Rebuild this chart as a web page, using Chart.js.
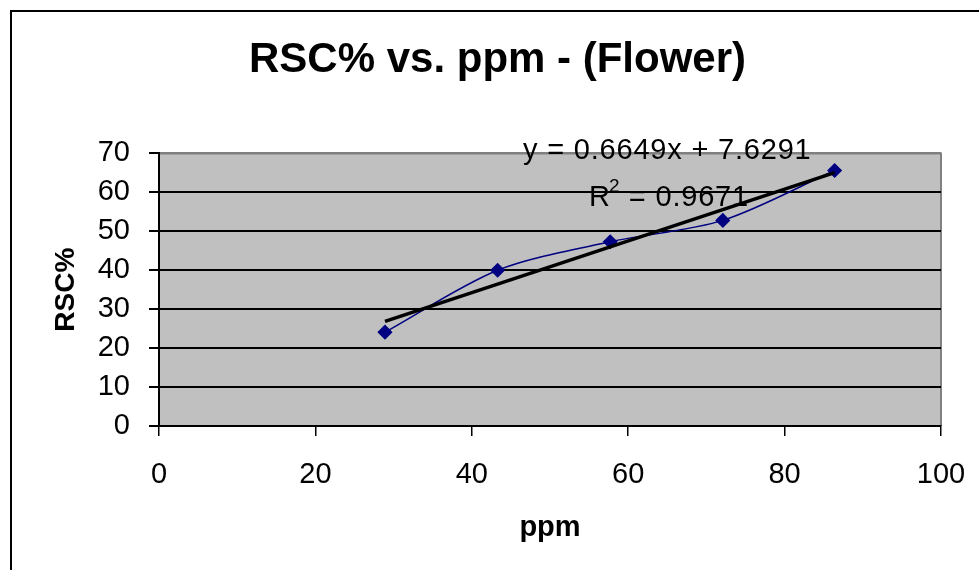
<!DOCTYPE html>
<html>
<head>
<meta charset="utf-8">
<title>RSC% vs. ppm - (Flower)</title>
<script src="https://cdn.jsdelivr.net/npm/chart.js@4.4.1/dist/chart.umd.min.js"></script>
<style>
  html, body { margin: 0; padding: 0; background: #fff; }
  #wrap { width: 979px; height: 570px; }
</style>
</head>
<body>
<div id="wrap"><canvas id="rscChart" width="979" height="570"></canvas></div>
<script>
// values
const ppm = [28.9, 43.3, 57.7, 72.1, 86.4];
const rsc = [24.1, 40, 47.3, 52.8, 65.6];
const trendSlope = 0.6649;
const trendIntercept = 7.6291;
const rSquared = 0.9671;
const xTicks = [0, 20, 40, 60, 80, 100];
const yTicks = [0, 10, 20, 30, 40, 50, 60, 70];

const FONT = '"Liberation Sans", Arial, sans-serif';
Chart.defaults.font.family = FONT;
Chart.defaults.color = '#000';

// linear trendline over the range of the data
const xMin = Math.min(...ppm);
const xMax = Math.max(...ppm);
const trendPoints = [xMin, xMax].map(x => ({ x: x, y: trendSlope * x + trendIntercept }));

const plotBackground = {
  id: 'plotBackground',
  beforeDraw(chart) {
    const { ctx, chartArea: a } = chart;
    ctx.save();
    ctx.fillStyle = '#fff';
    ctx.fillRect(0, 0, chart.width, chart.height);
    // outer frame
    ctx.strokeStyle = '#000';
    ctx.lineWidth = 2;
    ctx.strokeRect(11, 11, chart.width + 20, chart.height + 20);
    // grey plot area
    ctx.fillStyle = '#c0c0c0';
    ctx.fillRect(a.left, a.top, a.right - a.left, a.bottom - a.top);
    ctx.strokeStyle = '#808080';
    ctx.lineWidth = 2;
    ctx.beginPath();
    ctx.moveTo(a.left, a.top);
    ctx.lineTo(a.right, a.top);
    ctx.lineTo(a.right, a.bottom);
    ctx.stroke();
    ctx.restore();
  }
};

const equationLabel = {
  id: 'equationLabel',
  afterDraw(chart) {
    const ctx = chart.ctx;
    ctx.save();
    ctx.fillStyle = '#000';
    ctx.textBaseline = 'alphabetic';
    ctx.textAlign = 'left';
    if ('letterSpacing' in ctx) ctx.letterSpacing = '0.8px';
    ctx.font = '29px ' + FONT;
    const eq = 'y = ' + trendSlope + 'x + ' + trendIntercept;
    ctx.fillText(eq, 523, 159);
    ctx.fillText('R', 589, 206);
    ctx.font = '19px ' + FONT;
    ctx.fillText('2', 609, 192);
    ctx.font = '29px ' + FONT;
    ctx.fillText(' = ' + rSquared, 620, 206);
    ctx.restore();
  }
};

const ctx = document.getElementById('rscChart').getContext('2d');
new Chart(ctx, {
  type: 'scatter',
  data: {
    datasets: [
      {
        label: 'RSC%',
        data: ppm.map((x, i) => ({ x: x, y: rsc[i] })),
        showLine: true,
        tension: 0.3,
        borderColor: '#000080',
        borderWidth: 1.5,
        backgroundColor: '#000080',
        pointBackgroundColor: '#000080',
        pointBorderColor: '#000080',
        pointStyle: 'rectRot',
        pointRadius: 6.5,
        order: 1
      },
      {
        label: 'Linear',
        data: trendPoints,
        showLine: true,
        borderColor: '#000',
        borderWidth: 3.5,
        pointRadius: 0,
        order: 0
      }
    ]
  },
  options: {
    responsive: false,
    animation: false,
    layout: { padding: { left: 54, right: 38, top: 0, bottom: 0 } },
    plugins: {
      legend: { display: false },
      tooltip: { enabled: false },
      title: {
        display: true,
        text: 'RSC% vs. ppm - (Flower)',
        color: '#000',
        font: { size: 42, weight: 'bold', lineHeight: 1.2 },
        padding: { top: 35, bottom: 68 }
      }
    },
    scales: {
      x: {
        type: 'linear',
        min: 0,
        max: 100,
        afterBuildTicks(scale) { scale.ticks = xTicks.map(v => ({ value: v })); },
        afterFit(scale) {
          scale.height = 144;
          scale.paddingLeft = 0;
          scale.paddingRight = 0;
        },
        ticks: { font: { size: 29 }, padding: 22, color: '#000' },
        grid: { drawOnChartArea: false, drawTicks: true, tickLength: 10, color: '#000', lineWidth: 1.5 },
        border: { color: '#000', width: 2 },
        title: {
          display: true,
          text: 'ppm',
          color: '#000',
          font: { size: 29, weight: 'bold', lineHeight: 1.2 },
          padding: { top: 0, bottom: 25 }
        }
      },
      y: {
        type: 'linear',
        min: 0,
        max: 70,
        afterBuildTicks(scale) { scale.ticks = yTicks.map(v => ({ value: v })); },
        afterFit(scale) { scale.width = 105; },
        ticks: { font: { size: 29 }, padding: 19, color: '#000' },
        grid: {
          drawTicks: true,
          tickLength: 10,
          lineWidth: 2,
          color: c => (c.tick && c.tick.value === 70 ? '#808080' : '#000'),
          tickColor: '#000'
        },
        border: { color: '#000', width: 2 },
        title: {
          display: true,
          text: 'RSC%',
          color: '#000',
          font: { size: 28, weight: 'bold', lineHeight: 0.9 },
          padding: { top: 0, bottom: 0 }
        }
      }
    }
  },
  plugins: [plotBackground, equationLabel]
});
</script>
</body>
</html>
